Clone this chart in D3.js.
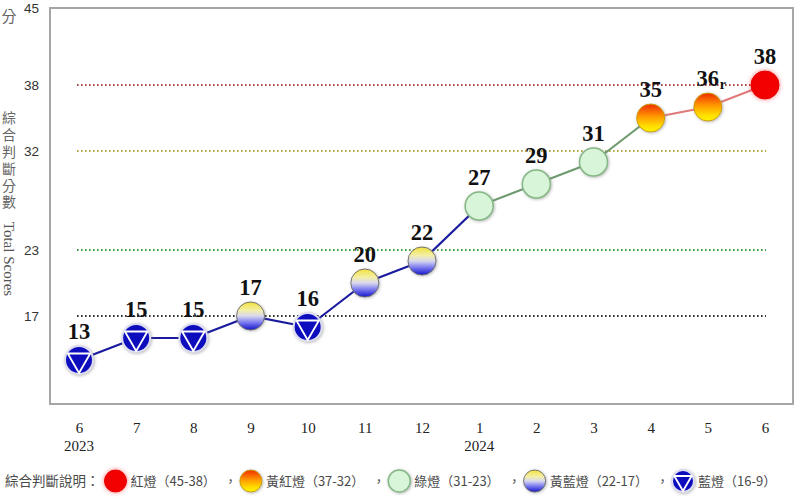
<!DOCTYPE html>
<html><head><meta charset="utf-8">
<script src="https://cdn.jsdelivr.net/npm/d3@7"></script>
<style>
html,body{margin:0;padding:0;background:#fff;}
svg{display:block;}
</style></head>
<body>
<svg id="chart" width="800" height="501"></svg>
<script>
// ---- data ----
const months = ["6","7","8","9","10","11","12","1","2","3","4","5","6"];
const years = ["2023","","","","","","","2024","","","","",""];
const scores = [13,15,15,17,16,20,22,27,29,31,35,36,38];
const revised = [false,false,false,false,false,false,false,false,false,false,false,true,false];
const yTicks = [45,38,32,23,17];
const refLines = [38,32,23,17];
const refColors = ["#a84848","#b8a848","#3f9f3f","#333333"];
const legendLabels = ["紅燈（45-38）","黃紅燈（37-32）","綠燈（31-23）","黃藍燈（22-17）","藍燈（16-9）"];
const legendKinds = ["red","yellowred","green","yellowblue","blue"];
const legendTitle = "綜合判斷說明：";
const yTitleCJK = "綜合判斷分數";
const yTitleEn = "Total Scores";
const yUnit = "分";

function kindOf(v){
  if (v >= 38) return "red";
  if (v >= 32) return "yellowred";
  if (v >= 23) return "green";
  if (v >= 17) return "yellowblue";
  return "blue";
}
const segColor = {blue:"#1a1a9e", yellowblue:"#1a1a9e", green:"#6f9a6f", yellowred:"#e07a7a", red:"#e07a7a"};

const svg = d3.select("#chart");
const defs = svg.append("defs");

// gradients
const g1 = defs.append("linearGradient").attr("id","gYB").attr("x1",0).attr("y1",0).attr("x2",0).attr("y2",1);
[[0,"#f2e23a"],[0.3,"#f3efa8"],[0.5,"#d8d8ee"],[0.72,"#7f7ff0"],[1,"#1414cc"]].forEach(s=>g1.append("stop").attr("offset",s[0]).attr("stop-color",s[1]));
const g2 = defs.append("linearGradient").attr("id","gYR").attr("x1",0).attr("y1",0).attr("x2",0).attr("y2",1);
[[0,"#f02a00"],[0.45,"#ff9a00"],[0.8,"#ffe000"],[1,"#fff200"]].forEach(s=>g2.append("stop").attr("offset",s[0]).attr("stop-color",s[1]));

const fShadow = defs.append("filter").attr("id","shadow").attr("x","-50%").attr("y","-50%").attr("width","200%").attr("height","200%");
fShadow.append("feDropShadow").attr("dx",0.8).attr("dy",0.8).attr("stdDeviation",1.6).attr("flood-color","#777").attr("flood-opacity",0.55);
const fRed = defs.append("filter").attr("id","redglow").attr("x","-50%").attr("y","-50%").attr("width","200%").attr("height","200%");
fRed.append("feDropShadow").attr("dx",0).attr("dy",0).attr("stdDeviation",2.2).attr("flood-color","#ff3030").attr("flood-opacity",0.7);

// ---- scales ----
const x = d3.scalePoint().domain(d3.range(scores.length)).range([79,765]);
const y = d3.scaleLinear().domain([9,45]).range([404,8]);

// frame
svg.append("rect").attr("x",50).attr("y",8).attr("width",743).attr("height",396)
  .attr("fill","none").attr("stroke","#a6a6a6").attr("stroke-width",2);

// reference dotted lines
svg.append("g").selectAll("line").data(refLines).join("line")
  .attr("x1",77).attr("x2",766)
  .attr("y1",d=>y(d)).attr("y2",d=>y(d))
  .attr("stroke",(d,i)=>refColors[i]).attr("stroke-width",1.8)
  .attr("stroke-dasharray","1.6,2.4");

// y axis
const yAxis = svg.append("g").attr("transform","translate(50,0)")
  .call(d3.axisLeft(y).tickValues(yTicks).tickSize(0).tickPadding(11).tickFormat(d3.format("d")));
yAxis.select(".domain").remove();
yAxis.selectAll("text").attr("font-family","'Liberation Sans', Arial, sans-serif").attr("font-size",13.5).attr("fill","#333");

// x axis
const xAxis = svg.append("g").attr("transform","translate(0,404)")
  .call(d3.axisBottom(x).tickSize(0).tickFormat(i=>months[i]));
xAxis.select(".domain").remove();
xAxis.selectAll("text").attr("y",29).attr("dy",0)
  .attr("font-family","'Liberation Serif', 'Times New Roman', serif").attr("font-size",15).attr("fill","#222");

// years
svg.append("g").selectAll("text").data(years.map((t,i)=>({t,i})).filter(d=>d.t)).join("text")
  .attr("x",d=>x(d.i)).attr("y",451).attr("text-anchor","middle")
  .attr("font-family","'Liberation Serif', 'Times New Roman', serif").attr("font-size",15).attr("fill","#222")
  .text(d=>d.t);

// y title
svg.append("text").attr("x",9).attr("y",22).attr("text-anchor","middle")
  .attr("font-family","'Noto Sans CJK TC', sans-serif").attr("font-size",15).attr("fill","#666").text(yUnit);
svg.append("text").attr("x",9).attr("y",111)
  .attr("writing-mode","vertical-rl").attr("text-orientation","upright")
  .attr("letter-spacing",2.8)
  .attr("font-family","'Noto Sans CJK TC', sans-serif").attr("font-size",14).attr("fill","#666").text(yTitleCJK);
svg.append("text").attr("transform","translate(4,259) rotate(90)").attr("text-anchor","middle")
  .attr("font-family","'Liberation Serif', 'Times New Roman', serif").attr("font-size",15).attr("fill","#555").text(yTitleEn);

// connecting segments
const pts = scores.map((v,i)=>({v,i,k:kindOf(v)}));
const line = d3.line().x(d=>x(d.i)).y(d=>y(d.v));
svg.append("g").selectAll("path").data(d3.pairs(pts)).join("path")
  .attr("d",d=>line(d)).attr("fill","none")
  .attr("stroke",d=>segColor[d[0].k]).attr("stroke-width",2.2);

// marker drawer
function drawMarker(g, kind, r){
  if (kind === "blue"){
    g.append("circle").attr("r",r).attr("fill","#0b0bbd").attr("stroke","#dcdcf0").attr("stroke-width",2).attr("filter","url(#shadow)");
    const rr = r - 1;
    const tri = [[-0.866*rr,-0.5*rr],[0.866*rr,-0.5*rr],[0,rr]];
    g.append("path").attr("d","M"+tri.map(p=>p.join(",")).join("L")+"Z")
      .attr("fill","none").attr("stroke","#fff").attr("stroke-width",1.8).attr("stroke-linejoin","round");
  } else if (kind === "yellowblue"){
    g.append("circle").attr("r",r).attr("fill","url(#gYB)").attr("stroke","#6a6a6a").attr("stroke-width",0.9).attr("filter","url(#shadow)");
  } else if (kind === "green"){
    g.append("circle").attr("r",r).attr("fill","#d9f5d9").attr("stroke","#86b886").attr("stroke-width",1.5).attr("filter","url(#shadow)");
  } else if (kind === "yellowred"){
    g.append("circle").attr("r",r).attr("fill","url(#gYR)").attr("stroke","#c9a000").attr("stroke-width",1).attr("filter","url(#shadow)");
  } else {
    g.append("circle").attr("r",r).attr("fill","#f20000").attr("stroke","#e40000").attr("stroke-width",1).attr("filter","url(#redglow)");
  }
}

// markers
const mk = svg.append("g").selectAll("g").data(pts).join("g")
  .attr("transform",d=>`translate(${x(d.i)},${y(d.v)})`);
mk.each(function(d){ drawMarker(d3.select(this), d.k, 14); });

// value labels
const lab = svg.append("g").selectAll("g").data(pts).join("g")
  .attr("transform",d=>`translate(${x(d.i)},${y(d.v)-21})`);
lab.append("text").attr("text-anchor","middle")
  .attr("font-family","'Liberation Serif', 'Times New Roman', serif").attr("font-weight","bold")
  .attr("font-size",22.5).attr("fill","#111").text(d=>d.v);
lab.filter(d=>revised[d.i]).append("text").attr("x",12).attr("y",3)
  .attr("font-family","'Liberation Serif', 'Times New Roman', serif").attr("font-weight","bold")
  .attr("font-size",14).attr("fill","#111").text("r");

// legend
const lg = svg.append("g").attr("transform","translate(0,481)");
const lf = "'Noto Sans CJK TC', sans-serif";
let cx = 5;
const t0 = lg.append("text").attr("x",cx).attr("y",5).attr("font-family",lf).attr("font-size",13.5).attr("fill","#4a4a4a").text(legendTitle);
cx += t0.node().getComputedTextLength() + 5;
legendLabels.forEach((lbl,i)=>{
  const r = 11;
  const g = lg.append("g").attr("transform",`translate(${cx+r},0)`);
  drawMarker(g, legendKinds[i], r);
  cx += 2*r + 4;
  const t = lg.append("text").attr("x",cx).attr("y",5).attr("font-family",lf).attr("font-size",13).attr("fill","#4a4a4a").text(lbl);
  cx += t.node().getComputedTextLength();
  if (i < legendLabels.length-1){
    lg.append("text").attr("x",cx+8).attr("y",5).attr("font-family",lf).attr("font-size",13).attr("fill","#4a4a4a").text("，");
    cx += 24;
  }
});
</script>
</body></html>
